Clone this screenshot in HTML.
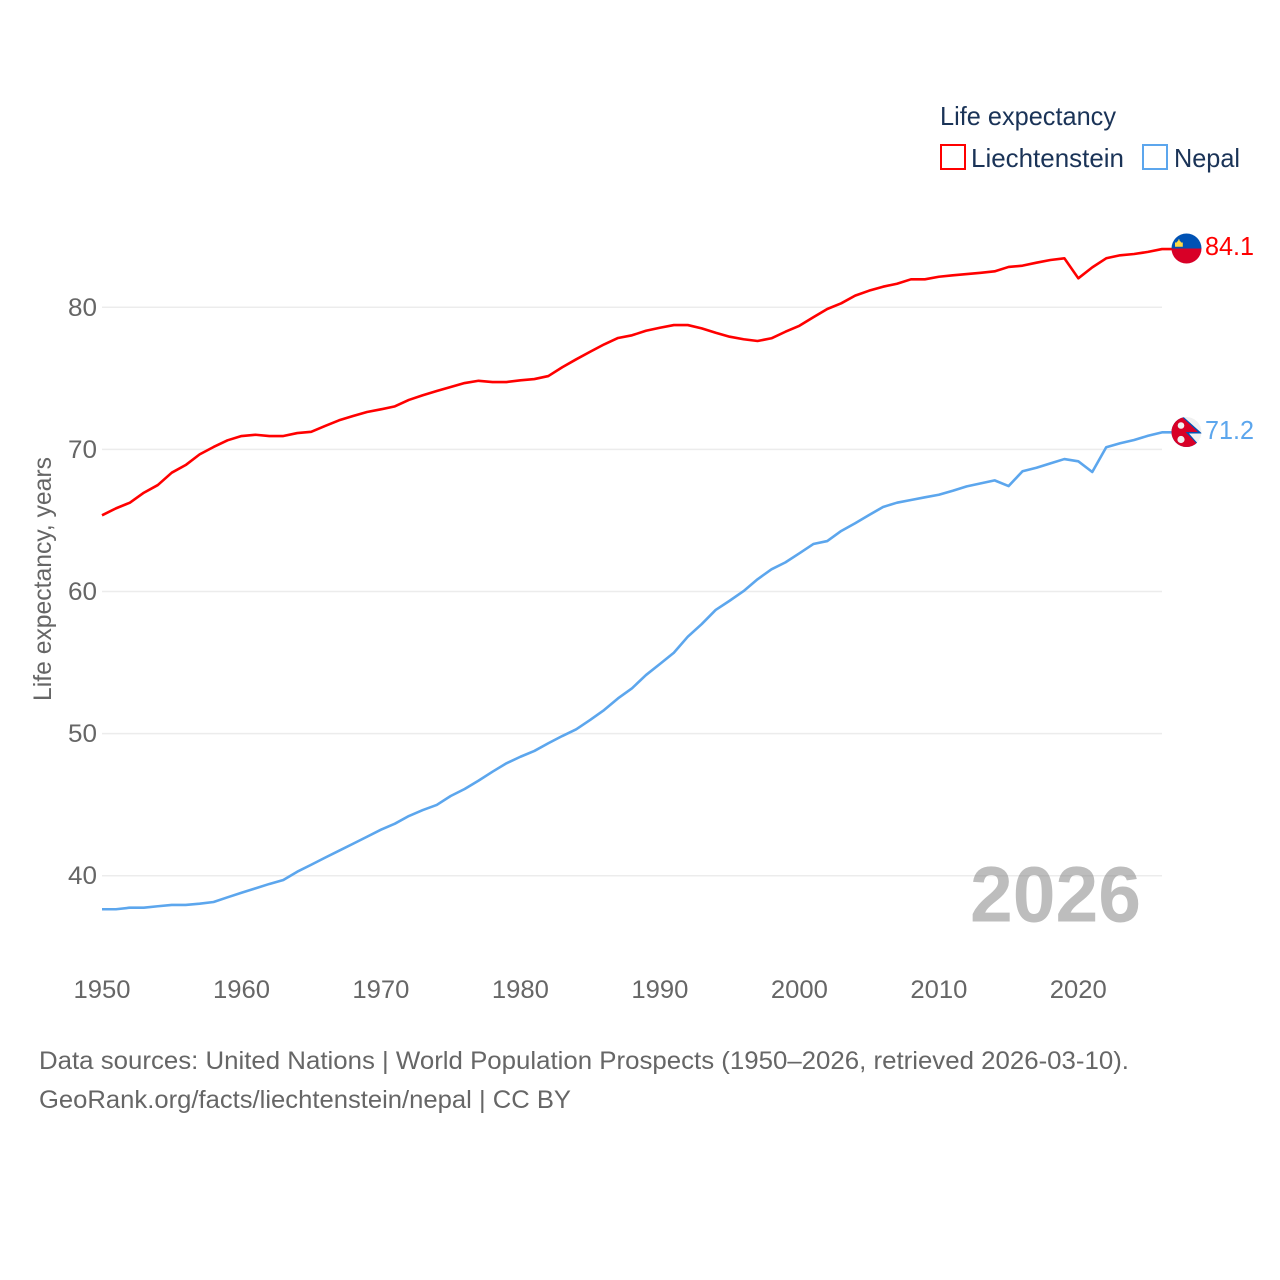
<!DOCTYPE html>
<html lang="en">
<head>
<meta charset="utf-8">
<title>Life expectancy: Liechtenstein and Nepal</title>
<style>
html,body{margin:0;padding:0;background:#fff;}
svg{display:block;font-family:"Liberation Sans",sans-serif;}
</style>
</head>
<body>
<svg id="chart" xmlns="http://www.w3.org/2000/svg" width="1280" height="1280" viewBox="0 0 1280 1280">
  <defs>
    <clipPath id="nepal-clip"><circle cx="1186.5" cy="432" r="15"/></clipPath>
  </defs>
  <rect x="0" y="0" width="1280" height="1280" fill="#ffffff"/>
  <g id="grid"></g>
  <g id="yticks"></g>
  <g id="xticks"></g>
  <text transform="translate(51,701) rotate(-90)" font-size="25" fill="#666666" textLength="244" lengthAdjust="spacingAndGlyphs">Life expectancy, years</text>
  <text x="970" y="921.5" font-size="79" font-weight="bold" fill="#808080" fill-opacity="0.52" textLength="171" lengthAdjust="spacingAndGlyphs">2026</text>
  <g id="series"></g>

  <g>
    <path d="M1171.5 248.5a15 15 0 0 1 30 0z" fill="#0052b4"/>
    <path d="M1171.5 248.5a15 15 0 0 0 30 0z" fill="#d80027"/>
    <path d="M1175 246.7v-4.2h1.6a2.5 2.5 0 0 1 1.6-1.6v-1.4h1.4v1.4a2.5 2.5 0 0 1 1.6 1.6h1.6v4.2z" fill="#ffda44"/>
  </g>
  <g clip-path="url(#nepal-clip)">
    <circle cx="1186.5" cy="432" r="15" fill="#f0f0f0"/>
    <path d="M1170 416H1182.5L1202 433.5H1189L1200 446L1196 449H1170z" fill="#0052b4"/>
    <path d="M1170 416H1181L1198 432H1185.5L1198 445L1194 449H1170z" fill="#d80027"/>
    <circle cx="1181" cy="425.5" r="3.3" fill="#f0f0f0"/>
    <circle cx="1181" cy="439.5" r="3.6" fill="#f0f0f0"/>
  </g>

  <g>
    <text x="940" y="125" font-size="26" fill="#1a3357" textLength="176" lengthAdjust="spacingAndGlyphs">Life expectancy</text>
    <rect x="941" y="145" width="24" height="24" fill="none" stroke="#ff0000" stroke-width="2"/>
    <text x="971" y="167" font-size="26" fill="#1a3357" textLength="153" lengthAdjust="spacingAndGlyphs">Liechtenstein</text>
    <rect x="1143" y="145" width="24" height="24" fill="none" stroke="#5ca6ed" stroke-width="2"/>
    <text x="1174" y="167" font-size="26" fill="#1a3357" textLength="66" lengthAdjust="spacingAndGlyphs">Nepal</text>
  </g>

  <text x="1205" y="255" font-size="26" fill="#ff0000" textLength="49" lengthAdjust="spacingAndGlyphs">84.1</text>
  <text x="1205" y="439" font-size="26" fill="#5ca6ed" textLength="49" lengthAdjust="spacingAndGlyphs">71.2</text>

  <text x="39" y="1069" font-size="25" fill="#666666" textLength="1090" lengthAdjust="spacingAndGlyphs">Data sources: United Nations | World Population Prospects (1950–2026, retrieved 2026-03-10).</text>
  <text x="39" y="1108" font-size="25" fill="#666666" textLength="532" lengthAdjust="spacingAndGlyphs">GeoRank.org/facts/liechtenstein/nepal | CC BY</text>
</svg>
<script>
const startYear = 1950;
const endYear = 2026;
const yTicks = [40, 50, 60, 70, 80];
const xTicks = [1950, 1960, 1970, 1980, 1990, 2000, 2010, 2020];
const liechtenstein = [
  65.36,65.85,66.25,66.95,67.49,68.36,68.90,69.65,70.17,70.64,
  70.94,71.03,70.94,70.94,71.15,71.24,71.65,72.05,72.35,72.63,
  72.82,73.03,73.48,73.81,74.11,74.39,74.67,74.83,74.74,74.74,
  74.86,74.95,75.16,75.78,76.34,76.87,77.39,77.84,78.03,78.35,
  78.56,78.75,78.75,78.52,78.21,77.93,77.75,77.63,77.82,78.28,
  78.70,79.30,79.88,80.28,80.82,81.17,81.45,81.66,81.97,81.97,
  82.15,82.25,82.34,82.43,82.53,82.84,82.93,83.14,83.33,83.45,
  82.04,82.81,83.45,83.66,83.75,83.90,84.10
];
const nepal = [
  37.64,37.64,37.75,37.75,37.85,37.94,37.94,38.03,38.15,38.48,
  38.80,39.11,39.42,39.70,40.28,40.77,41.27,41.76,42.25,42.74,
  43.24,43.66,44.20,44.62,44.98,45.61,46.10,46.69,47.32,47.91,
  48.37,48.78,49.32,49.83,50.30,50.96,51.66,52.48,53.19,54.12,
  54.90,55.69,56.82,57.71,58.70,59.35,60.03,60.86,61.56,62.05,
  62.69,63.34,63.55,64.26,64.80,65.38,65.95,66.25,66.44,66.63,
  66.81,67.09,67.40,67.61,67.82,67.42,68.46,68.71,69.02,69.32,
  69.16,68.41,70.15,70.43,70.66,70.96,71.20
];

const NS = 'http://www.w3.org/2000/svg';
function xScale(year) {
  return 102 + (year - startYear) * (1162 - 102) / (endYear - startYear);
}
function yScale(value) {
  return 875.7 - (value - 40) * 14.21;
}
function make(tag, attrs, parent) {
  const el = document.createElementNS(NS, tag);
  for (const k in attrs) el.setAttribute(k, attrs[k]);
  parent.appendChild(el);
  return el;
}

const grid = document.getElementById('grid');
const yGroup = document.getElementById('yticks');
const xGroup = document.getElementById('xticks');
const seriesGroup = document.getElementById('series');

yTicks.forEach(function (t) {
  const line = make('line', {x1: 102, x2: 1162, y1: yScale(t), y2: yScale(t), stroke: '#ececec', 'stroke-width': 1.5}, grid);
  
  
  const label = make('text', {x: 68, y: yScale(t) + 8.5, 'font-size': 25, fill: '#666666', textLength: 29, lengthAdjust: 'spacingAndGlyphs'}, yGroup);
  label.textContent = String(t);
  
  
});

xTicks.forEach(function (t) {
  const label = make('text', {x: xScale(t) - 28.5, y: 998, 'font-size': 25, fill: '#666666', textLength: 57, lengthAdjust: 'spacingAndGlyphs'}, xGroup);
  label.textContent = String(t);
  
  
});

function drawSeries(values, color, name) {
  let d = '';
  values.forEach(function (v, i) {
    d += (i ? 'L' : 'M') + xScale(startYear + i).toFixed(2) + ' ' + yScale(v).toFixed(2);
  });
  d += 'L' + (xScale(endYear) + 10).toFixed(2) + ' ' + yScale(values[values.length - 1]).toFixed(2);
  const path = make('path', {d: d, fill: 'none', stroke: color, 'stroke-width': 2.6, 'stroke-linejoin': 'round'}, seriesGroup);
  
  
}
drawSeries(liechtenstein, '#ff0000', 'line-liechtenstein');
drawSeries(nepal, '#5ca6ed', 'line-nepal');
</script>
</body>
</html>
